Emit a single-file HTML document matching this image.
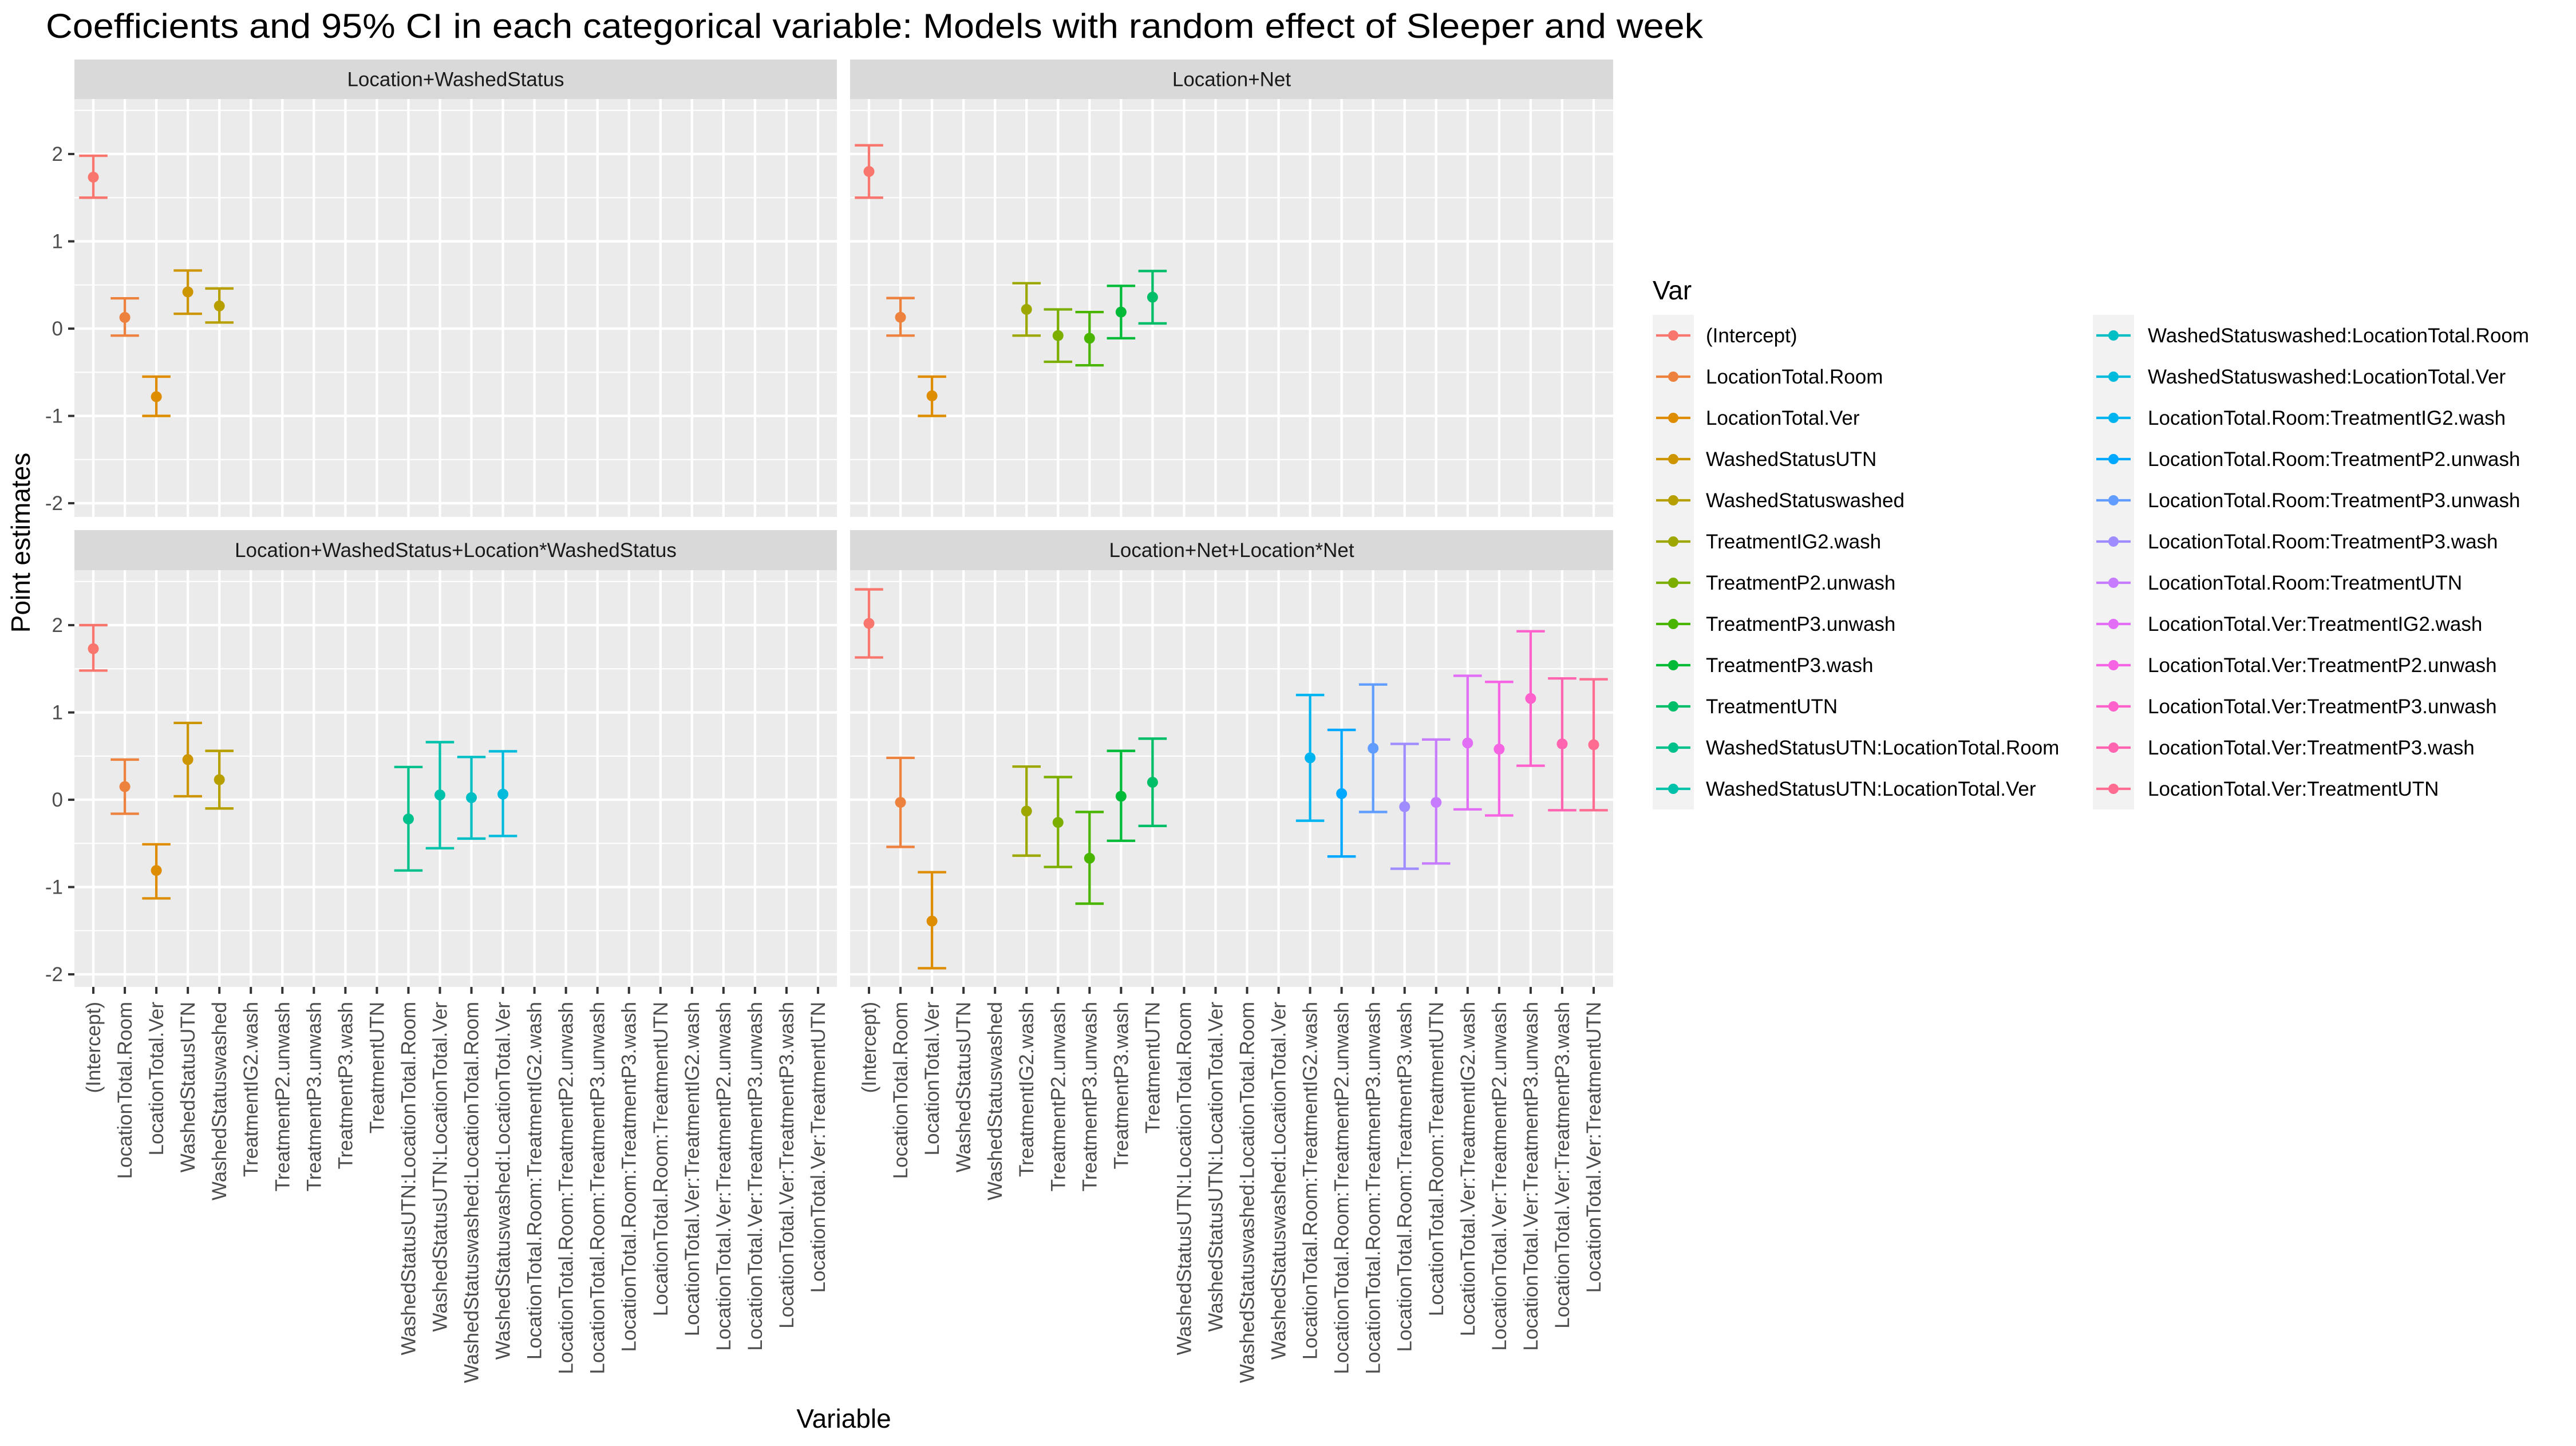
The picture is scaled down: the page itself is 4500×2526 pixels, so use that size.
<!DOCTYPE html>
<html><head><meta charset="utf-8"><style>
html,body{margin:0;padding:0;background:#fff;}
svg{display:block;font-family:"Liberation Sans",Arial,sans-serif;}
</style></head><body>
<svg id="chart" width="4500" height="2526" viewBox="0 0 4500 2526" xmlns="http://www.w3.org/2000/svg">
<rect x="0" y="0" width="4500" height="2526" fill="#ffffff"/>
<text x="80" y="66" font-size="60" fill="#000" textLength="2895" lengthAdjust="spacingAndGlyphs">Coefficients and 95% CI in each categorical variable: Models with random effect of Sleeper and week</text>
<text transform="translate(52,948) rotate(-90)" text-anchor="middle" font-size="46" fill="#000">Point estimates</text>
<text x="1474" y="2494" text-anchor="middle" font-size="46" fill="#000">Variable</text>
<g id="panels"></g>
<g id="legend"></g>
</svg>
<script>
const categories = ["(Intercept)","LocationTotal.Room","LocationTotal.Ver","WashedStatusUTN","WashedStatuswashed","TreatmentIG2.wash","TreatmentP2.unwash","TreatmentP3.unwash","TreatmentP3.wash","TreatmentUTN","WashedStatusUTN:LocationTotal.Room","WashedStatusUTN:LocationTotal.Ver","WashedStatuswashed:LocationTotal.Room","WashedStatuswashed:LocationTotal.Ver","LocationTotal.Room:TreatmentIG2.wash","LocationTotal.Room:TreatmentP2.unwash","LocationTotal.Room:TreatmentP3.unwash","LocationTotal.Room:TreatmentP3.wash","LocationTotal.Room:TreatmentUTN","LocationTotal.Ver:TreatmentIG2.wash","LocationTotal.Ver:TreatmentP2.unwash","LocationTotal.Ver:TreatmentP3.unwash","LocationTotal.Ver:TreatmentP3.wash","LocationTotal.Ver:TreatmentUTN"];
const panelTitles = ["Location+WashedStatus","Location+Net","Location+WashedStatus+Location*WashedStatus","Location+Net+Location*Net"];
const yTicks = [-2,-1,0,1,2];
const yTickLabels = ["-2","-1","0","1","2"];
// panel 1
const p1Vars = [0,1,2,3,4];
const p1Est = [1.735,0.128,-0.78,0.42,0.26];
const p1Lo = [1.50,-0.08,-1.00,0.17,0.07];
const p1Hi = [1.98,0.347,-0.55,0.666,0.46];
// panel 2
const p2Vars = [0,1,2,5,6,7,8,9];
const p2Est = [1.80,0.13,-0.77,0.22,-0.08,-0.11,0.19,0.36];
const p2Lo = [1.50,-0.08,-1.00,-0.08,-0.38,-0.42,-0.11,0.06];
const p2Hi = [2.10,0.35,-0.55,0.52,0.22,0.19,0.49,0.66];
// panel 3
const p3Vars = [0,1,2,3,4,10,11,12,13];
const p3Est = [1.73,0.15,-0.81,0.46,0.23,-0.22,0.055,0.024,0.064];
const p3Lo = [1.48,-0.16,-1.13,0.04,-0.10,-0.81,-0.555,-0.445,-0.415];
const p3Hi = [2.00,0.46,-0.51,0.88,0.56,0.375,0.66,0.49,0.555];
// panel 4
const p4Vars = [0,1,2,5,6,7,8,9,14,15,16,17,18,19,20,21,22,23];
const p4Est = [2.02,-0.03,-1.39,-0.13,-0.26,-0.67,0.04,0.20,0.48,0.07,0.59,-0.08,-0.03,0.65,0.58,1.16,0.64,0.63];
const p4Lo = [1.63,-0.54,-1.93,-0.64,-0.77,-1.19,-0.47,-0.30,-0.24,-0.65,-0.14,-0.79,-0.73,-0.11,-0.18,0.39,-0.12,-0.12];
const p4Hi = [2.41,0.48,-0.83,0.38,0.26,-0.14,0.56,0.70,1.20,0.80,1.32,0.64,0.69,1.42,1.35,1.93,1.39,1.38];

const NS = "http://www.w3.org/2000/svg";
function mk(tag, attrs, parent){const e=document.createElementNS(NS,tag);for(const k in attrs)e.setAttribute(k,attrs[k]);parent.appendChild(e);return e;}

function hcl(h,c,l){
  const Xn=95.047,Yn=100,Zn=108.883;
  const hr=h*Math.PI/180,u=c*Math.cos(hr),v=c*Math.sin(hr);
  const Y=l>8?Yn*Math.pow((l+16)/116,3):Yn*l/903.3;
  const d=Xn+15*Yn+3*Zn,un=4*Xn/d,vn=9*Yn/d;
  const up=u/(13*l)+un,vp=v/(13*l)+vn;
  const X=9*Y*up/(4*vp),Z=-X/3-5*Y+3*Y/vp;
  const x=X/100,y=Y/100,z=Z/100;
  let r=3.240479*x-1.53715*y-0.498535*z,g=-0.969256*x+1.875992*y+0.041556*z,b=0.055648*x-0.204043*y+1.057311*z;
  const gm=t=>{t=t<=0.0031308?12.92*t:1.055*Math.pow(t,1/2.4)-0.055;return Math.round(Math.max(0,Math.min(1,t))*255);};
  return "rgb("+gm(r)+","+gm(g)+","+gm(b)+")";
}
const NL = categories.length;
const colors = [];
for(let i=0;i<NL;i++) colors.push(hcl(15+360*i/NL,100,65));

const cols=[{x0:130,x1:1462},{x0:1485,x1:2818}];
const rows=[{s0:104,y0:173,y1:903},{s0:926,y0:996,y1:1724}];
const yMax=2.63, unit=152.5;
const nCat=categories.length;
const dx=1332/(nCat-1+1.2);
const panelData=[[p1Vars,p1Est,p1Lo,p1Hi],[p2Vars,p2Est,p2Lo,p2Hi],[p3Vars,p3Est,p3Lo,p3Hi],[p4Vars,p4Est,p4Lo,p4Hi]];

const panelsG=document.getElementById('panels');
function xPos(col,i){return cols[col].x0+0.6*dx+i*dx;}
function yPos(row,v){return rows[row].y0+(yMax-v)*unit;}
for(let p=0;p<4;p++){
  const col=p%2,row=Math.floor(p/2),c=cols[col],r=rows[row];
  const g=mk('g',{},panelsG);
  
  
  const strip=mk('rect',{x:c.x0,y:r.s0,width:c.x1-c.x0,height:r.y0-r.s0,fill:'#d9d9d9'},g);
  
  
  const st=mk('text',{x:(c.x0+c.x1)/2,y:(r.s0+r.y0)/2+12,'text-anchor':'middle','font-size':35,fill:'#1a1a1a'},g);
  st.textContent=panelTitles[p];
  
  
  const bg=mk('rect',{x:c.x0,y:r.y0,width:c.x1-c.x0,height:r.y1-r.y0,fill:'#ebebeb'},g);
  
  
  for(let v=-2;v<=2.5;v+=1){const y=yPos(row,v+0.5);if(y>r.y0&&y<r.y1){const l=mk('line',{x1:c.x0,x2:c.x1,y1:y,y2:y,stroke:'#fff','stroke-width':2.2},g);}}
  yTicks.forEach((t,k)=>{const y=yPos(row,t);const l=mk('line',{x1:c.x0,x2:c.x1,y1:y,y2:y,stroke:'#fff','stroke-width':4.4},g);
    if(col===0){const tk=mk('line',{x1:c.x0-11,x2:c.x0,y1:y,y2:y,stroke:'#333','stroke-width':4},g);
      const tl=mk('text',{x:c.x0-20,y:y+12,'text-anchor':'end','font-size':35,fill:'#4d4d4d'},g);tl.textContent=yTickLabels[k];}
  });
  for(let i=0;i<nCat;i++){const x=xPos(col,i);const l=mk('line',{x1:x,x2:x,y1:r.y0,y2:r.y1,stroke:'#fff','stroke-width':4.3},g);
    if(row===1){const tk=mk('line',{x1:x,x2:x,y1:r.y1,y2:r.y1+12,stroke:'#333','stroke-width':4},g);}}
  const [vars,est,lo,hi]=panelData[p];
  const cap=0.9*dx/2;
  for(let k=0;k<vars.length;k++){
    const i=vars[k],x=xPos(col,i),color=colors[i];
    const eg=mk('g',{},g);
    
    
    const yh=yPos(row,hi[k]),yl=yPos(row,lo[k]),ye=yPos(row,est[k]);
    mk('line',{x1:x,x2:x,y1:yh,y2:yl,stroke:color,'stroke-width':4.3},eg);
    mk('line',{x1:x-cap,x2:x+cap,y1:yh,y2:yh,stroke:color,'stroke-width':4.3},eg);
    mk('line',{x1:x-cap,x2:x+cap,y1:yl,y2:yl,stroke:color,'stroke-width':4.3},eg);
    mk('circle',{cx:x,cy:ye,r:9.5,fill:color},eg);
  }
}
for(let col=0;col<2;col++){
  for(let i=0;i<nCat;i++){
    const x=xPos(col,i);
    const t=mk('text',{transform:'translate('+(x+12)+',1750) rotate(-90)','text-anchor':'end','font-size':35,fill:'#4d4d4d'},panelsG);
    t.textContent=categories[i];
    
    
  }
}
// legend
const lg=document.getElementById('legend');
const lt=mk('text',{x:2887,y:523,'font-size':46,fill:'#000'},lg);
lt.textContent='Var';


const perCol=Math.ceil(nCat/2);
const legCols=[{kx:2887,tx:2980},{kx:3656,tx:3752}];
legCols.forEach(lc=>{
  const kb=mk('rect',{x:lc.kx,y:550,width:72,height:perCol*72,fill:'#f2f2f2'},lg);
  
  
});
for(let i=0;i<nCat;i++){
  const lc=legCols[i<perCol?0:1];
  const row=i<perCol?i:i-perCol;
  const y=586+row*72;
  const color=colors[i];
  const e=mk('g',{},lg);
  
  
  mk('line',{x1:lc.kx+6,x2:lc.kx+66,y1:y,y2:y,stroke:color,'stroke-width':4.3},e);
  mk('circle',{cx:lc.kx+36,cy:y,r:9,fill:color},e);
  const t=mk('text',{x:lc.tx,y:y+12,'font-size':35,fill:'#000'},e);
  t.textContent=categories[i];
}
</script>
</body></html>
